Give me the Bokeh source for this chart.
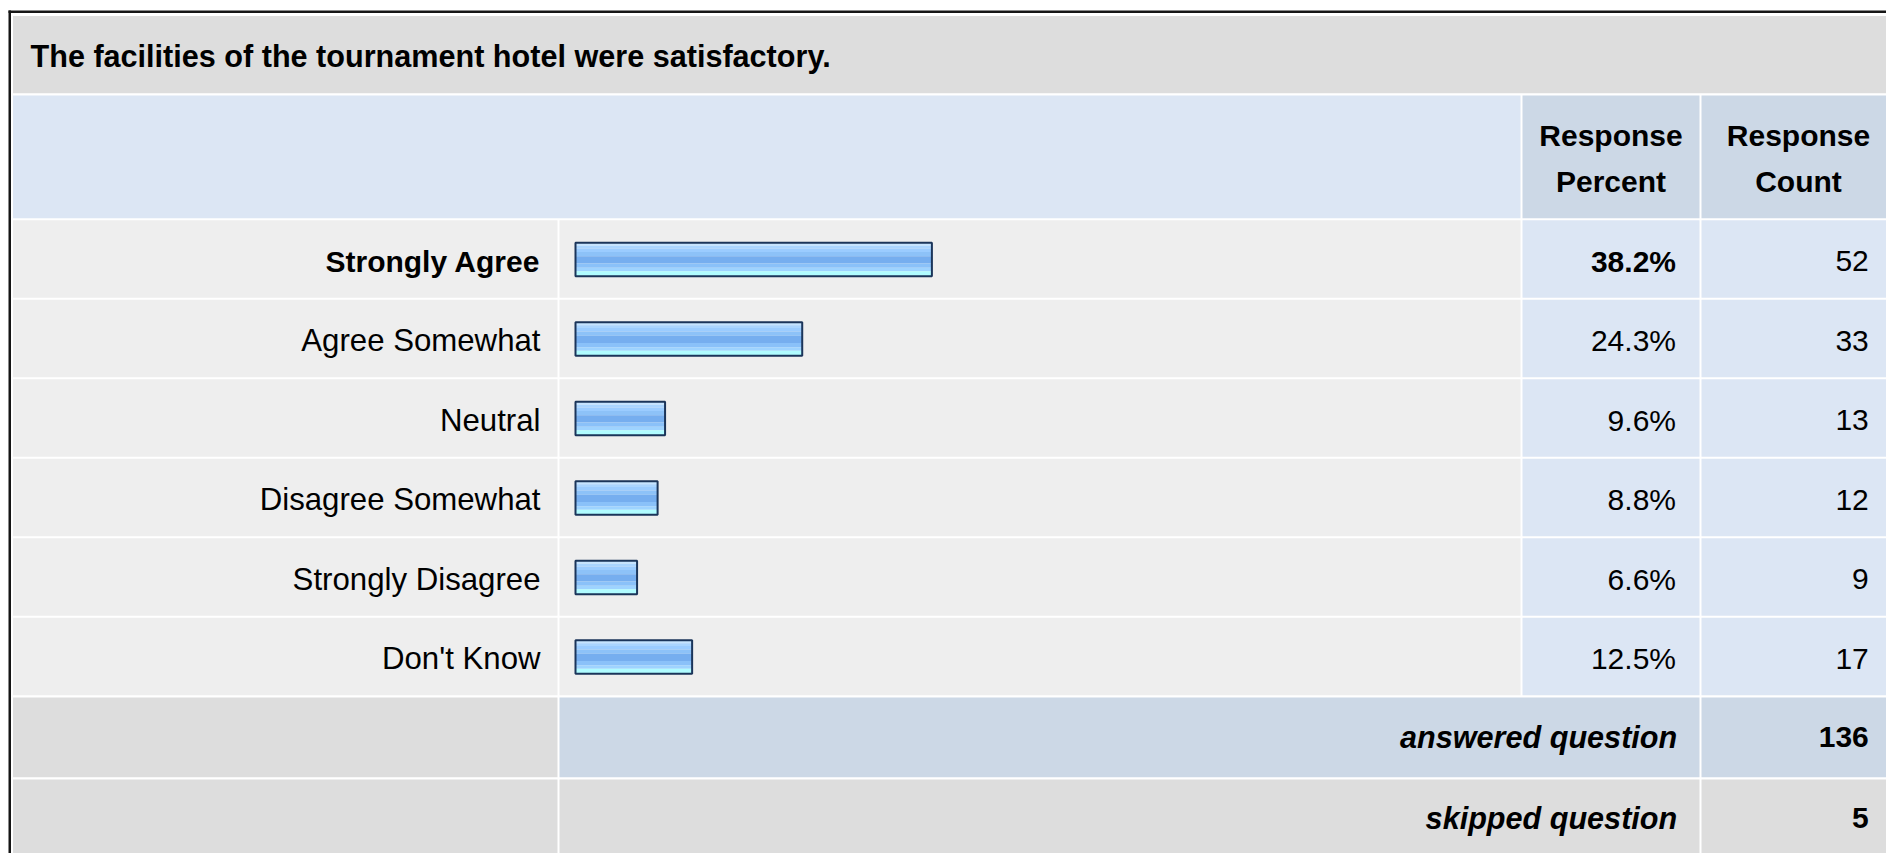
from bokeh.plotting import figure
from bokeh.models import Range1d
from bokeh.core.properties import value
from bokeh.embed import file_html
from bokeh.resources import INLINE

# ---------------- data ----------------
question = "The facilities of the tournament hotel were satisfactory."
answers = ["Strongly Agree", "Agree Somewhat", "Neutral",
           "Disagree Somewhat", "Strongly Disagree", "Don't Know"]
percents = [38.2, 24.3, 9.6, 8.8, 6.6, 12.5]
counts = [52, 33, 13, 12, 9, 17]
percent_header = ["Response", "Percent"]
count_header = ["Response", "Count"]
answered_label = "answered question"
skipped_label = "skipped question"
answered_count = 136
skipped_count = 5

# ---------------- styles / layout ----------------
FONT = value("Liberation Sans")
GRAY_DARK = "#DDDDDD"
GRAY_LIGHT = "#EEEEEE"
BLUE_LIGHT = "#DCE6F4"
BLUE_MID = "#CCD8E6"
BORDER = "#151515"
BAR_EDGE = "#1B355A"
STRIPES = [(0.000, 0.085, "#C6E4FF"), (0.085, 0.170, "#AAD5FF"),
           (0.170, 0.277, "#9BCCFF"), (0.277, 0.404, "#8DC2F8"),
           (0.404, 0.617, "#76AEEF"), (0.617, 0.745, "#8AC1F9"),
           (0.745, 0.851, "#9ED3FF"), (0.851, 1.000, "#B0FCFF")]

W, H = 1886, 853
C0 = (12.5, 557.0)                # label column
C1 = (559.0, 1520.0)              # bar column
C2 = (1522.0, 1699.0)             # percent column
C3 = (1701.0, 1900.0)             # count column
TITLE_Y = (15.5, 92.7)
HEAD_Y = (95.0, 217.7)
ROW0, ROW_PITCH, ROW_H = 219.7, 79.5, 77.5
ANS_Y = (697.0, 776.7)
SKIP_Y = (779.0, 900.0)
BAR_X0, PX_PER_PCT = 575.0, 9.33
BAR_TOP, BAR_BOT = 22.6, 56.0     # bar border centreline offsets in row
TXT_DY = -11.0                    # renderer baseline correction

p = figure(width=W, height=H, output_backend="svg", toolbar_location=None,
           x_range=Range1d(0, W), y_range=Range1d(H, 0),
           min_border=0, outline_line_color=None,
           background_fill_color="white", border_fill_color="white")
p.xaxis.visible = False
p.yaxis.visible = False
p.grid.visible = False
p.extra_x_ranges = {"pct": Range1d((0 - BAR_X0) / PX_PER_PCT,
                                   (W - BAR_X0) / PX_PER_PCT)}

# ---------------- cell backgrounds ----------------
L, R, T, B, COL = [], [], [], [], []


def cell(x, y, c):
    L.append(x[0]); R.append(x[1]); T.append(y[0]); B.append(y[1]); COL.append(c)


cell((C0[0], C3[1]), TITLE_Y, GRAY_DARK)
cell((C0[0], C1[1]), HEAD_Y, BLUE_LIGHT)
cell(C2, HEAD_Y, BLUE_MID)
cell(C3, HEAD_Y, BLUE_MID)
row_tops = [ROW0 + ROW_PITCH * i for i in range(len(answers))]
for top in row_tops:
    ry = (top, top + ROW_H)
    cell(C0, ry, GRAY_LIGHT)
    cell(C1, ry, GRAY_LIGHT)
    cell(C2, ry, BLUE_LIGHT)
    cell(C3, ry, BLUE_LIGHT)
cell(C0, ANS_Y, GRAY_DARK)
cell((C1[0], C2[1]), ANS_Y, BLUE_MID)
cell(C3, ANS_Y, BLUE_MID)
cell(C0, SKIP_Y, GRAY_DARK)
cell((C1[0], C2[1]), SKIP_Y, GRAY_DARK)
cell(C3, SKIP_Y, GRAY_DARK)
p.quad(left=L, right=R, top=T, bottom=B, fill_color=COL, line_color=None)

# table border (left and top visible)
p.quad(left=[8, 8], right=[10.5, 1900], top=[10, 10], bottom=[900, 12.5],
       fill_color=BORDER, line_color=None)

# ---------------- bars ----------------
for f0, f1, c in STRIPES:
    tops = [t + BAR_TOP + (BAR_BOT - BAR_TOP) * f0 for t in row_tops]
    bots = [t + BAR_TOP + (BAR_BOT - BAR_TOP) * f1 for t in row_tops]
    p.quad(left=[0] * len(percents), right=percents, top=tops, bottom=bots,
           fill_color=c, line_color=None, x_range_name="pct")
p.quad(left=[0] * len(percents), right=percents,
       top=[t + BAR_TOP for t in row_tops], bottom=[t + BAR_BOT for t in row_tops],
       fill_color=None, line_color=BAR_EDGE, line_width=2, x_range_name="pct")

# ---------------- texts ----------------


def txt(x, y, s, align="right", style="normal", fs="30px"):
    p.text(x=x, y=[v + TXT_DY for v in y], text=s, text_font=FONT, text_font_size=fs,
           text_font_style=style, text_align=align,
           text_baseline="alphabetic", text_color="#000000")


txt([30], [66], [question], align="left", style="bold", fs="30.6px")
txt([(C2[0] + C2[1]) / 2] * 2, [145.7, 191.7], percent_header, align="center", style="bold")
txt([1798] * 2, [145.7, 191.7], count_header, align="center", style="bold")

base = [t + 52 for t in row_tops]
pct_txt = ["%.1f%%" % v for v in percents]
cnt_txt = [str(v) for v in counts]
txt([540], base[:1], answers[:1], style="bold")
txt([540] * 5, base[1:], answers[1:], fs="31.2px")
txt([1675.5], base[:1], pct_txt[:1], style="bold")
txt([1675.5] * 5, base[1:], pct_txt[1:])
txt([1868.3] * 6, base, cnt_txt)

txt([1676.7, 1676.7], [747.3, 828.3], [answered_label, skipped_label],
    style="bold italic", fs="30.6px")
txt([1868.3, 1868.3], [747.3, 828.3], [str(answered_count), str(skipped_count)], style="bold")

open("out.html", "w").write(file_html(p, INLINE))
